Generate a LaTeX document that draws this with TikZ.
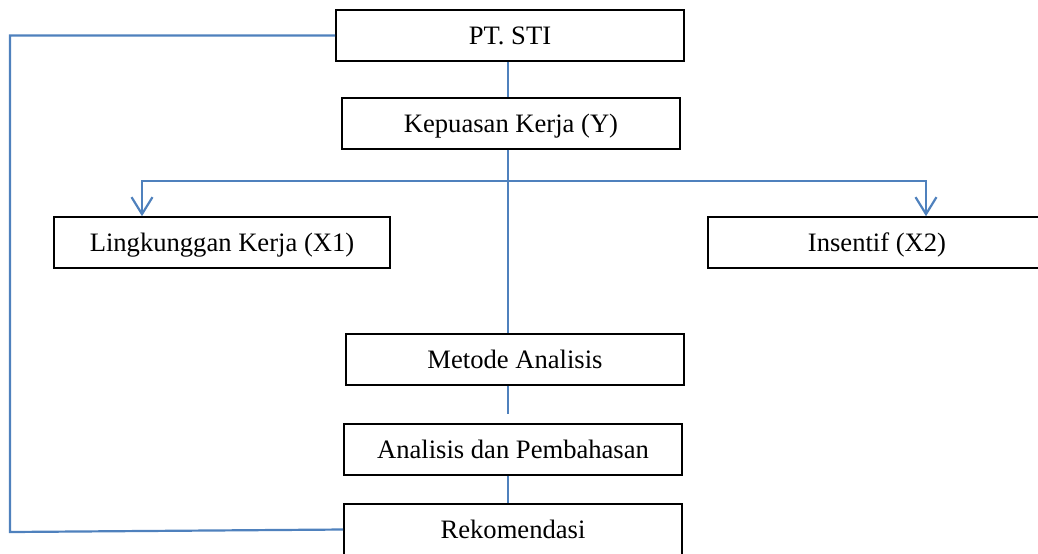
\documentclass[tikz,border=0pt]{standalone}
\usepackage{fontspec}
\setmainfont{Liberation Serif}
\usetikzlibrary{arrows.meta}
\definecolor{lineblue}{RGB}{79,129,189}
\tikzset{
  box/.style={draw=black, line width=0.8pt, rectangle, minimum width=169pt, minimum height=25.5pt, inner sep=0pt, text height=8.8pt, text depth=0pt, font=\fontsize{13.3}{16}\selectfont, fill=white},
  conn/.style={draw=lineblue, line width=1.1pt},
  barbtip/.tip={Straight Barb[length=8.5pt, width=10.5pt, line width=1.1pt]}
}
\begin{document}
\begin{tikzpicture}[x=0.5pt, y=-0.5pt]
\useasboundingbox (0,0) rectangle (1038,553);
\node[box, minimum width=174pt] (pt) at (510,35.5) {PT. STI};
\node[box] (k) at (511,123.5) {Kepuasan Kerja (Y)};
\node[box, minimum width=168pt] (l) at (222,242.5) {Lingkunggan Kerja (X1)};
\node[box] (i) at (877,242.5) {Insentif (X2)};
\node[box] (m) at (515,359.5) {Metode Analisis};
\node[box] (a) at (513,449.5) {Analisis dan Pembahasan};
\node[box] (r) at (513,529.5) {Rekomendasi};
\coordinate (vx) at (508,0);
\coordinate (bl) at (142,181);
\coordinate (br) at (926,181);
\coordinate (mend) at (508,414);
\coordinate (c1) at (10,35.5);
\coordinate (c2) at (10,532);
\draw[conn] (pt.south -| vx) -- (k.north -| vx);
\draw[conn] (k.south -| vx) -- (m.north -| vx);
\draw[conn] (m.south -| vx) -- (mend);
\draw[conn] (a.south -| vx) -- (r.north -| vx);
\draw[conn, barbtip-barbtip] (bl |- l.north) -- (bl) -- (br) -- (br |- i.north);
\draw[conn] (pt.west) -- (c1) -- (c2) -- (r.west);
\end{tikzpicture}
\end{document}
